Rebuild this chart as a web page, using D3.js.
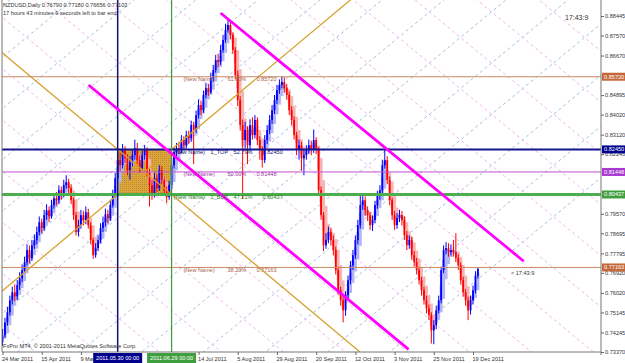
<!DOCTYPE html>
<html><head><meta charset="utf-8">
<script src="https://cdn.jsdelivr.net/npm/d3@7"></script>
<style>html,body{margin:0;padding:0;background:#fff;} svg{display:block;font-family:"Liberation Sans",Arial,sans-serif;}</style>
</head><body><svg id="c" width="625" height="363"></svg>
<script>
// ---------------- DATA ----------------
const opens = [0.7380,0.7412,0.7470,0.7515,0.7569,0.7605,0.7587,0.7637,0.7668,0.7704,
0.7740,0.7794,0.7758,0.7816,0.7839,0.7875,0.7919,0.7893,0.7951,0.7973,
0.7946,0.7996,0.8027,0.8018,0.8063,0.8041,0.8086,0.8099,0.8072,0.8018,
0.7951,0.7875,0.7906,0.7951,0.7928,0.7964,0.7906,0.7839,0.7771,0.7803,
0.7839,0.7893,0.7919,0.7955,0.7937,0.7996,0.8041,0.8117,0.8198,0.8175,
0.8243,0.8207,0.8153,0.8189,0.8220,0.8252,0.8198,0.8162,0.8220,0.8243,
0.8144,0.8086,0.8041,0.8117,0.8072,0.8153,0.8108,0.8063,0.8032,0.8086,
0.8175,0.8234,0.8252,0.8243,0.8288,0.8265,0.8310,0.8297,0.8355,0.8333,
0.8400,0.8445,0.8422,0.8490,0.8521,0.8503,0.8566,0.8602,0.8647,0.8638,
0.8692,0.8737,0.8782,0.8804,0.8759,0.8692,0.8580,0.8467,0.8355,0.8288,
0.8333,0.8265,0.8355,0.8310,0.8378,0.8288,0.8243,0.8198,0.8288,0.8333,
0.8378,0.8422,0.8467,0.8512,0.8535,0.8548,0.8521,0.8490,0.8422,0.8378,
0.8310,0.8243,0.8265,0.8207,0.8220,0.8243,0.8265,0.8243,0.8288,0.8243,
0.8063,0.7951,0.7816,0.7839,0.7875,0.7839,0.7794,0.7704,0.7614,0.7569,
0.7524,0.7592,0.7659,0.7726,0.7771,0.7839,0.7906,0.7996,0.8018,0.7973,
0.7951,0.7906,0.7928,0.7996,0.8041,0.8063,0.8175,0.8198,0.8108,0.8018,
0.7951,0.7906,0.7937,0.7951,0.7928,0.7861,0.7816,0.7839,0.7771,0.7740,
0.7704,0.7659,0.7614,0.7569,0.7533,0.7502,0.7434,0.7457,0.7524,0.7569,
0.7704,0.7794,0.7803,0.7785,0.7794,0.7785,0.7758,0.7726,0.7659,0.7605,
0.7569,0.7524,0.7569,0.7614,0.7679];
const highs = [0.7440,0.7490,0.7540,0.7590,0.7630,0.7640,0.7660,0.7695,0.7730,0.7765,
0.7820,0.7815,0.7840,0.7865,0.7900,0.7945,0.7935,0.7975,0.8000,0.7990,
0.8020,0.8050,0.8055,0.8085,0.8080,0.8110,0.8130,0.8115,0.8090,0.8030,
0.7965,0.7930,0.7975,0.7970,0.7990,0.7980,0.7920,0.7850,0.7825,0.7860,
0.7915,0.7945,0.7980,0.7975,0.8020,0.8065,0.8140,0.8225,0.8250,0.8270,
0.8260,0.8225,0.8215,0.8245,0.8290,0.8275,0.8220,0.8240,0.8265,0.8255,
0.8160,0.8110,0.8140,0.8135,0.8175,0.8170,0.8120,0.8080,0.8105,0.8195,
0.8255,0.8275,0.8280,0.8310,0.8305,0.8330,0.8330,0.8375,0.8370,0.8420,
0.8470,0.8465,0.8510,0.8545,0.8540,0.8590,0.8625,0.8670,0.8675,0.8715,
0.8760,0.8810,0.8835,0.8825,0.8770,0.8705,0.8600,0.8485,0.8380,0.8370,
0.8350,0.8380,0.8390,0.8400,0.8390,0.8305,0.8260,0.8310,0.8355,0.8400,
0.8445,0.8490,0.8535,0.8560,0.8575,0.8570,0.8540,0.8505,0.8440,0.8395,
0.8325,0.8290,0.8280,0.8245,0.8265,0.8290,0.8285,0.8335,0.8300,0.8255,
0.8080,0.7965,0.7870,0.7900,0.7895,0.7860,0.7810,0.7720,0.7630,0.7585,
0.7610,0.7680,0.7745,0.7795,0.7860,0.7930,0.8050,0.8050,0.8035,0.7990,
0.7965,0.7950,0.8015,0.8060,0.8085,0.8200,0.8245,0.8215,0.8125,0.8030,
0.7970,0.7960,0.7975,0.7970,0.7945,0.7880,0.7860,0.7855,0.7790,0.7760,
0.7720,0.7675,0.7630,0.7590,0.7550,0.7515,0.7480,0.7545,0.7590,0.7720,
0.7815,0.7830,0.7825,0.7820,0.7840,0.7870,0.7775,0.7740,0.7675,0.7620,
0.7585,0.7590,0.7635,0.7700,0.7718];
const lows = [0.7365,0.7400,0.7455,0.7500,0.7550,0.7565,0.7570,0.7615,0.7650,0.7690,
0.7725,0.7735,0.7745,0.7800,0.7820,0.7860,0.7870,0.7880,0.7930,0.7920,
0.7935,0.7980,0.7995,0.8000,0.8020,0.8030,0.8070,0.8050,0.8000,0.7930,
0.7860,0.7855,0.7890,0.7905,0.7910,0.7890,0.7820,0.7755,0.7760,0.7790,
0.7825,0.7875,0.7900,0.7915,0.7925,0.7985,0.8030,0.8105,0.8150,0.8160,
0.8185,0.8130,0.8110,0.8170,0.8200,0.8180,0.8140,0.8150,0.8200,0.8125,
0.7990,0.8020,0.8030,0.8055,0.8060,0.8090,0.8045,0.8005,0.8020,0.8075,
0.8160,0.8215,0.8225,0.8230,0.8245,0.8250,0.8270,0.8280,0.8180,0.8320,
0.8385,0.8400,0.8410,0.8475,0.8485,0.8495,0.8550,0.8590,0.8615,0.8625,
0.8680,0.8725,0.8770,0.8740,0.8675,0.8560,0.8440,0.8330,0.8025,0.8250,
0.8180,0.8240,0.8290,0.8295,0.8265,0.8200,0.8165,0.8185,0.8270,0.8315,
0.8360,0.8405,0.8450,0.8495,0.8520,0.8500,0.8470,0.8400,0.8355,0.8290,
0.8220,0.8200,0.8150,0.8130,0.8200,0.8225,0.8220,0.8230,0.8225,0.8045,
0.7930,0.7790,0.7800,0.7825,0.7815,0.7770,0.7685,0.7595,0.7545,0.7470,
0.7500,0.7575,0.7640,0.7705,0.7755,0.7820,0.7890,0.7975,0.7950,0.7925,
0.7885,0.7880,0.7915,0.7980,0.8020,0.8050,0.8160,0.8090,0.7995,0.7930,
0.7885,0.7890,0.7920,0.7905,0.7840,0.7795,0.7800,0.7750,0.7720,0.7685,
0.7640,0.7590,0.7550,0.7510,0.7480,0.7375,0.7372,0.7440,0.7510,0.7555,
0.7690,0.7775,0.7765,0.7770,0.7765,0.7740,0.7705,0.7640,0.7585,0.7545,
0.7480,0.7505,0.7550,0.7600,0.7666];
const closes = [0.7412,0.7470,0.7515,0.7569,0.7605,0.7587,0.7637,0.7668,0.7704,0.7740,
0.7794,0.7758,0.7816,0.7839,0.7875,0.7919,0.7893,0.7951,0.7973,0.7946,
0.7996,0.8027,0.8018,0.8063,0.8041,0.8086,0.8099,0.8072,0.8018,0.7951,
0.7875,0.7906,0.7951,0.7928,0.7964,0.7906,0.7839,0.7771,0.7803,0.7839,
0.7893,0.7919,0.7955,0.7937,0.7996,0.8041,0.8117,0.8198,0.8175,0.8243,
0.8207,0.8153,0.8189,0.8220,0.8252,0.8198,0.8162,0.8220,0.8243,0.8144,
0.8086,0.8041,0.8117,0.8072,0.8153,0.8108,0.8063,0.8032,0.8086,0.8175,
0.8234,0.8252,0.8243,0.8288,0.8265,0.8310,0.8297,0.8355,0.8333,0.8400,
0.8445,0.8422,0.8490,0.8521,0.8503,0.8566,0.8602,0.8647,0.8638,0.8692,
0.8737,0.8782,0.8804,0.8759,0.8692,0.8580,0.8467,0.8355,0.8288,0.8333,
0.8265,0.8355,0.8310,0.8378,0.8288,0.8243,0.8198,0.8288,0.8333,0.8378,
0.8422,0.8467,0.8512,0.8535,0.8548,0.8521,0.8490,0.8422,0.8378,0.8310,
0.8243,0.8265,0.8207,0.8220,0.8243,0.8265,0.8243,0.8288,0.8243,0.8063,
0.7951,0.7816,0.7839,0.7875,0.7839,0.7794,0.7704,0.7614,0.7569,0.7524,
0.7592,0.7659,0.7726,0.7771,0.7839,0.7906,0.7996,0.8018,0.7973,0.7951,
0.7906,0.7928,0.7996,0.8041,0.8063,0.8175,0.8198,0.8108,0.8018,0.7951,
0.7906,0.7937,0.7951,0.7928,0.7861,0.7816,0.7839,0.7771,0.7740,0.7704,
0.7659,0.7614,0.7569,0.7533,0.7502,0.7434,0.7457,0.7524,0.7569,0.7704,
0.7794,0.7803,0.7785,0.7794,0.7785,0.7758,0.7726,0.7659,0.7605,0.7569,
0.7524,0.7569,0.7614,0.7679,0.7710];

// bottom axis labels (bar index of each label); two are covered by the vertical-line tags
const dateTickBars = [0,16,32,80,96,112,128,144,160,176,192];
const dateTickLabels = ["24 Mar 2011","15 Apr 2011","9 May 2011","14 Jul 2011","5 Aug 2011","29 Aug 2011","20 Sep 2011","12 Oct 2011","3 Nov 2011","25 Nov 2011","19 Dec 2011"];
// right axis grid labels (those hidden behind level tags are left out)
const priceTicks = [0.88445,0.87570,0.86670,0.84895,0.84020,0.83120,0.82245,0.79570,0.78695,0.77795,0.76920,0.76020,0.75145,0.74245,0.73370];
const priceTickLabels = ["0.88445","0.87570","0.86670","0.84895","0.84020","0.83120","0.82245","0.79570","0.78695","0.77795","0.76920","0.76020","0.75145","0.74245","0.73370"];

// retracement levels
const levelPrices = [0.85720, 0.82459, 0.81448, 0.80437, 0.77163];
const levelTags   = ["", "1_TOP", "", "1_BOT", ""];
const levelPcts   = ["61.80%", "52.79%", "50.00%", "47.21%", "38.20%"];
const levelBoxText = ["0.85720","0.82450","0.81448","0.80437","0.77163"];

// vertical lines (bar index) and their labels
const vlineBars = [47, 69];
const vlineLabels = ["2011.05.30 00:00", "2011.06.29 00:00"];

// rectangle: bars and prices
const boxBars = [47, 69];
const boxPrices = [0.82459, 0.80437];

// magenta channel lines [bar, price]
const channelUpper = [[89, 0.8858], [212.7, 0.7744]];
const channelLower = [[35.1, 0.8535], [165.7, 0.7349]];

// header info
const symbolInfo = "NZDUSD,Daily  0.76790 0.77180 0.76656 0.77103";
const timerText = "17 hours 43 minutes 9 seconds left to bar end";

// ---------------- LAYOUT ----------------
const svg = d3.select("#c");
const L = 2, R = 601, T = 0, B = 352;
const x = d3.scaleLinear().domain([0, 192]).range([2.5, 473]);
const y = d3.scaleLinear().domain([0.73370, 0.88445]).range([352, 16]);

const defs = svg.append("defs");
defs.append("clipPath").attr("id","plot").append("rect").attr("x",L).attr("y",T).attr("width",R-L).attr("height",B-T);
const pat = defs.append("pattern").attr("id","dots").attr("width",2).attr("height",2).attr("patternUnits","userSpaceOnUse");
pat.append("rect").attr("width",2).attr("height",2).attr("fill","#dba640");
pat.append("rect").attr("width",1).attr("height",1).attr("fill","#c08a2a");
// bottom-axis labels are hidden behind the vertical-line tags
const axClip = defs.append("clipPath").attr("id","axclip");
axClip.append("rect").attr("x",0).attr("y",-10).attr("width",x(vlineBars[0])-24.5).attr("height",30);
axClip.append("rect").attr("x",x(vlineBars[0])+24.5).attr("y",-10).attr("width",(x(vlineBars[1])-24.5)-(x(vlineBars[0])+24.5)).attr("height",30);
axClip.append("rect").attr("x",x(vlineBars[1])+24.5).attr("y",-10).attr("width",625).attr("height",30);

svg.append("rect").attr("width",625).attr("height",363).attr("fill","#fff");
const g = svg.append("g").attr("clip-path","url(#plot)");

// lattice (two families of dashed diagonal lines)
const slope = 0.000908; // price per bar
function lattice(anchorBar, anchorPrice, dir, stepBars, color) {
  for (let k = -12; k <= 12; k++) {
    const b0 = anchorBar + k*stepBars;
    const p0 = anchorPrice;
    const bA = -60, bB = 300;
    g.append("line")
      .attr("x1", x(bA)).attr("y1", y(p0 + dir*slope*(bA-b0)))
      .attr("x2", x(bB)).attr("y2", y(p0 + dir*slope*(bB-b0)))
      .attr("stroke", color).attr("stroke-width", 1).attr("stroke-dasharray","3,3");
  }
}
lattice(15.5, 0.8800, 1, 25.3, "#a9bedb");
lattice(4.1, 0.8800, -1, 25.3, "#f3b2f0");

// rectangle
g.append("rect").attr("x", x(boxBars[0])).attr("y", y(boxPrices[0]))
  .attr("width", x(boxBars[1]) - x(boxBars[0])).attr("height", y(boxPrices[1]) - y(boxPrices[0]))
  .attr("fill", "url(#dots)");

// Heikin-Ashi shadow candles (derived from OHLC)
const ha = [];
let hO = (opens[0]+closes[0])/2, hC = (opens[0]+highs[0]+lows[0]+closes[0])/4;
for (let i = 0; i < closes.length; i++) {
  if (i > 0) { hO = (ha[i-1].o + ha[i-1].c)/2; hC = (opens[i]+highs[i]+lows[i]+closes[i])/4; }
  ha.push({o:hO, c:hC});
}
g.selectAll("rect.ha").data(ha).join("rect").attr("class","ha")
  .attr("x", (d,i) => x(i) - 1.5).attr("width", 3)
  .attr("y", d => y(Math.max(d.o,d.c))).attr("height", d => Math.max(1, Math.abs(y(d.o)-y(d.c))))
  .attr("fill", d => d.c >= d.o ? "#b3b6f2" : "#f7b4b4");

// candles
const idx = d3.range(closes.length);
const col = i => closes[i] >= opens[i] ? "#0000ff" : "#ff0000";
g.selectAll("rect.wick").data(idx).join("rect").attr("class","wick")
  .attr("x", i => x(i) - 0.5).attr("width", 1)
  .attr("y", i => y(highs[i])).attr("height", i => y(lows[i]) - y(highs[i]))
  .attr("fill", col);
g.selectAll("rect.body").data(idx).join("rect").attr("class","body")
  .attr("x", i => x(i) - 0.9).attr("width", 1.8)
  .attr("y", i => y(Math.max(opens[i],closes[i]))).attr("height", i => Math.max(1, Math.abs(y(opens[i])-y(closes[i]))))
  .attr("fill", col);

// orange diagonals of the rectangle, extended
function extLine(b1,p1,b2,p2,color,w){
  const s = (p2-p1)/(b2-b1);
  const bA=-60,bB=300;
  g.append("line").attr("x1",x(bA)).attr("y1",y(p1+s*(bA-b1))).attr("x2",x(bB)).attr("y2",y(p1+s*(bB-b1)))
    .attr("stroke",color).attr("stroke-width",w);
}
extLine(boxBars[0], boxPrices[1], boxBars[1], boxPrices[0], "#d9a12e", 1.3);
extLine(boxBars[0], boxPrices[0], boxBars[1], boxPrices[1], "#d9a12e", 1.3);

// horizontal levels
const levelColors = ["#c98a66", "#14148c", "#c050d0", "#4cae4c", "#c98a66"];
const levelWidths = [1, 2, 1, 3, 1];
levelPrices.forEach((p,i) => {
  g.append("line").attr("x1",L).attr("x2",R).attr("y1",y(p)).attr("y2",y(p))
    .attr("stroke",levelColors[i]).attr("stroke-width",levelWidths[i]);
});

// vertical lines
const vColors = ["#10107a", "#3c9a3c"];
vlineBars.forEach((b,i) => {
  g.append("line").attr("x1",x(b)).attr("x2",x(b)).attr("y1",T).attr("y2",B)
    .attr("stroke",vColors[i]).attr("stroke-width", i===0 ? 1.5 : 1.2);
});

// magenta channel
[channelUpper, channelLower].forEach(c => {
  g.append("line").attr("x1",x(c[0][0])).attr("y1",y(c[0][1])).attr("x2",x(c[1][0])).attr("y2",y(c[1][1]))
    .attr("stroke","#ff00ff").attr("stroke-width",2.8);
});

// level text labels
const txtColors = ["#a86448", "#141470", "#9a36aa", "#2a7a2a", "#a86448"];
levelPrices.forEach((p,i) => {
  const hasTag = levelTags[i] !== "";
  const x0 = hasTag ? x(69) + 2 : x(73) + 2;
  const t = svg.append("g").attr("font-size", 5.6).attr("fill", txtColors[i]);
  const yy = y(p) + 4.5;
  t.append("text").attr("x", x0).attr("y", yy).text("(New Name)");
  if (hasTag) t.append("text").attr("x", x0 + 37).attr("y", yy).text(levelTags[i]);
  t.append("text").attr("x", hasTag ? x0 + 60 : x0 + 44).attr("y", yy).text(levelPcts[i]);
  t.append("text").attr("x", hasTag ? x0 + 89 : x0 + 73).attr("y", yy).text(levelBoxText[i]);
});

// frame
svg.append("line").attr("x1",L).attr("x2",L).attr("y1",0).attr("y2",B).attr("stroke","#777");
svg.append("line").attr("x1",R).attr("x2",R).attr("y1",0).attr("y2",B+3).attr("stroke","#777");
svg.append("line").attr("x1",L).attr("x2",R).attr("y1",B).attr("y2",B).attr("stroke","#777");

// right axis
const ra = svg.append("g").attr("transform",`translate(${R},0)`)
  .call(d3.axisRight(y).tickValues(priceTicks).tickFormat((d,i)=>priceTickLabels[i]).tickSize(3).tickPadding(1));
ra.select(".domain").remove();
ra.selectAll("line").attr("stroke","#666");
ra.selectAll("text").attr("font-size",5.6).attr("fill","#333").attr("font-family","Liberation Sans, Arial, sans-serif");

// bottom axis
const ba = svg.append("g").attr("transform",`translate(0,${B})`).attr("clip-path","url(#axclip)")
  .call(d3.axisBottom(x).tickValues(dateTickBars).tickFormat((d,i)=>dateTickLabels[i]).tickSize(3).tickPadding(2));
ba.select(".domain").remove();
ba.selectAll("line").attr("stroke","#666");
ba.selectAll("text").attr("font-size",5.6).attr("fill","#333").attr("text-anchor","start").attr("dx",-1)
  .attr("font-family","Liberation Sans, Arial, sans-serif");

// level boxes on right axis
const boxColors = ["#c4683a", "#00008c", "#a838d0", "#3f9f3f", "#c4683a"];
levelPrices.forEach((p,i) => {
  svg.append("rect").attr("x",R+1).attr("y",y(p)-4).attr("width",24).attr("height",8).attr("fill",boxColors[i]);
  svg.append("text").attr("x",R+3).attr("y",y(p)+2).attr("font-size",5.6).attr("fill","#fff").text(levelBoxText[i]);
});

// vertical line labels on bottom axis
const vBoxColors = ["#00008c", "#3f9f3f"];
vlineBars.forEach((b,i) => {
  svg.append("rect").attr("x",x(b)-24.5).attr("y",B+1).attr("width",49).attr("height",10).attr("fill",vBoxColors[i]);
  svg.append("text").attr("x",x(b)).attr("y",B+8).attr("text-anchor","middle").attr("font-size",5.6).attr("fill","#fff").text(vlineLabels[i]);
});

// texts
svg.append("text").attr("x",3).attr("y",7).attr("font-size",5.6).attr("fill","#333").text(symbolInfo);
svg.append("text").attr("x",3).attr("y",15).attr("font-size",5.6).attr("fill","#333").text(timerText);
svg.append("text").attr("x",565).attr("y",20).attr("font-size",7).attr("fill","#333").text("17:43:9");
svg.append("text").attr("x",x(194)+33).attr("y",y(closes[194])+6).attr("font-size",5.6).attr("fill","#333").text("< 17:43:9");
svg.append("text").attr("x",3).attr("y",348).attr("font-size",5.6).attr("fill","#333").text("FxPro MT4, © 2001-2011 MetaQuotes Software Corp.");
</script></body></html>
